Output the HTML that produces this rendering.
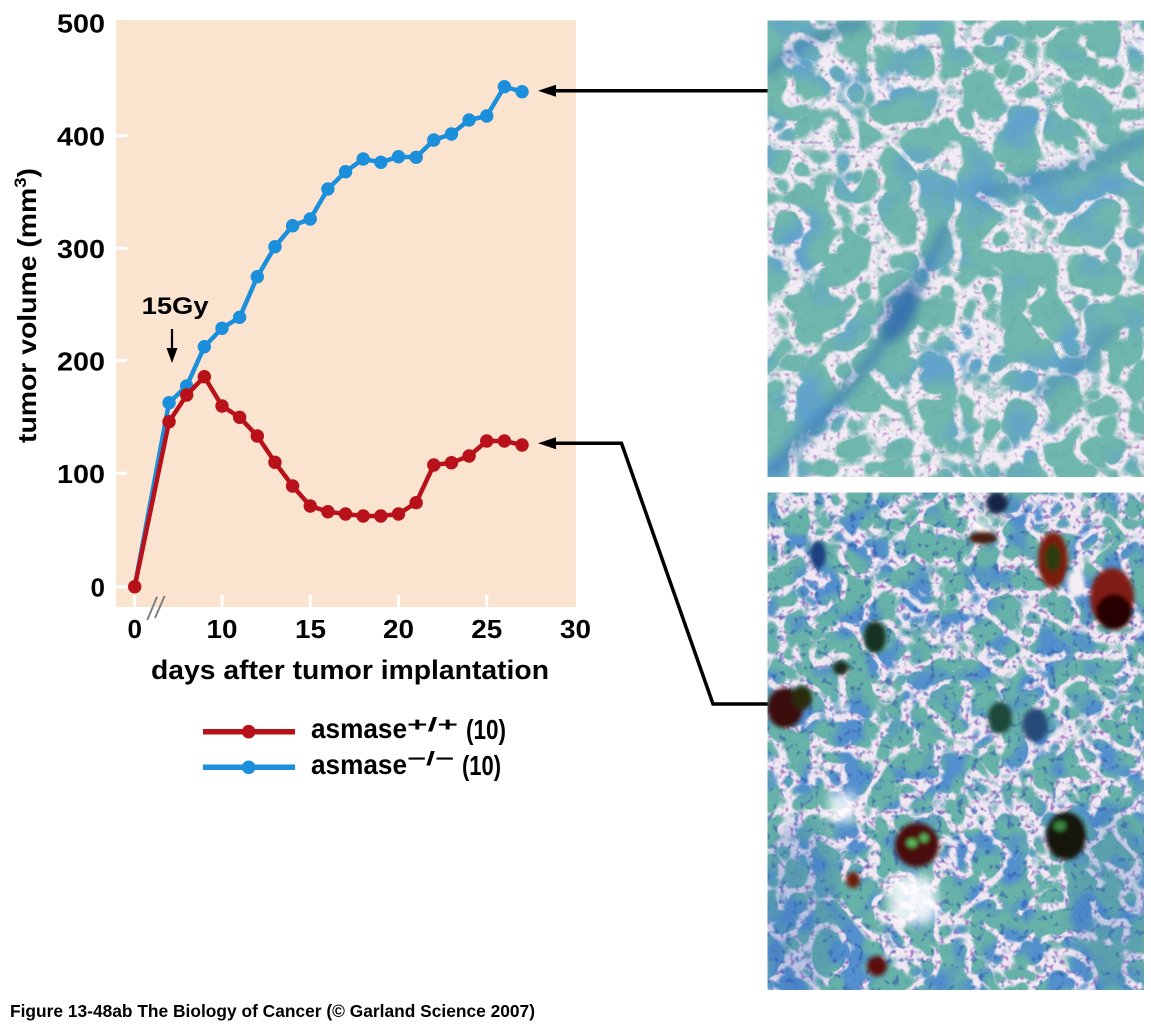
<!DOCTYPE html>
<html><head><meta charset="utf-8"><style>html,body{margin:0;padding:0;background:#fff;width:1151px;height:1024px;overflow:hidden}svg{display:block}</style></head>
<body>
<svg xmlns="http://www.w3.org/2000/svg" width="1151" height="1024" viewBox="0 0 1151 1024" font-family="'Liberation Sans', Arial, sans-serif" font-weight="bold">
<defs>
  <clipPath id="c1"><rect x="767.5" y="20.5" width="376.5" height="456.5"/></clipPath>
  <clipPath id="c2"><rect x="767.5" y="492.5" width="376.5" height="497.5"/></clipPath>
  <filter id="spk1" filterUnits="userSpaceOnUse" x="767" y="20" width="378" height="458" color-interpolation-filters="sRGB">
    <feTurbulence type="fractalNoise" baseFrequency="0.22" numOctaves="1" seed="11"/>
    <feColorMatrix type="matrix" values="0 0 0 0 0.70  0 0 0 0 0.52  0 0 0 0 0.78  5 0 0 0 -2.8"/>
  </filter>
  <filter id="cel1" filterUnits="userSpaceOnUse" x="767" y="20" width="378" height="458" color-interpolation-filters="sRGB">
    <feTurbulence type="turbulence" baseFrequency="0.024" numOctaves="2" seed="4" result="t"/>
    <feColorMatrix in="t" type="matrix" values="0 0 0 0 0  0 0 0 0 0  0 0 0 0 0  9 0 0 0 -0.95" result="mask"/>
    <feFlood flood-color="#70b7ad" result="teal"/>
    <feTurbulence type="fractalNoise" baseFrequency="0.018" numOctaves="2" seed="8" result="f"/>
    <feColorMatrix in="f" type="matrix" values="0 0 0 0 0.38  0 0 0 0 0.64  0 0 0 0 0.80  0 4 0 0 -1.95" result="blue"/>
    <feComposite in="blue" in2="teal" operator="over" result="col"/>
    <feComposite in="col" in2="mask" operator="in"/>
  </filter>
  <filter id="grain1" filterUnits="userSpaceOnUse" x="767" y="20" width="378" height="458" color-interpolation-filters="sRGB">
    <feTurbulence type="fractalNoise" baseFrequency="0.12" numOctaves="2" seed="17"/>
    <feColorMatrix type="matrix" values="0 0 0 0 0.40  0 0 0 0 0.66  0 0 0 0 0.62  4 0 0 0 -2.2"/>
  </filter>
  <filter id="spk2" filterUnits="userSpaceOnUse" x="767" y="492" width="378" height="499" color-interpolation-filters="sRGB">
    <feTurbulence type="fractalNoise" baseFrequency="0.2" numOctaves="1" seed="5"/>
    <feColorMatrix type="matrix" values="0 0 0 0 0.68  0 0 0 0 0.50  0 0 0 0 0.78  5 0 0 0 -2.7"/>
  </filter>
  <filter id="cel2" filterUnits="userSpaceOnUse" x="767" y="492" width="378" height="499" color-interpolation-filters="sRGB">
    <feTurbulence type="turbulence" baseFrequency="0.032" numOctaves="2" seed="14" result="t"/>
    <feColorMatrix in="t" type="matrix" values="0 0 0 0 0  0 0 0 0 0  0 0 0 0 0  8 0 0 0 -0.9" result="mask"/>
    <feFlood flood-color="#66b1a8" result="teal"/>
    <feTurbulence type="fractalNoise" baseFrequency="0.03" numOctaves="2" seed="33" result="f"/>
    <feColorMatrix in="f" type="matrix" values="0 0 0 0 0.32  0 0 0 0 0.56  0 0 0 0 0.80  0 5 0 0 -2.3" result="blue"/>
    <feComposite in="blue" in2="teal" operator="over" result="col"/>
    <feComposite in="col" in2="mask" operator="in"/>
  </filter>
  <filter id="dsp2" filterUnits="userSpaceOnUse" x="767" y="492" width="378" height="499" color-interpolation-filters="sRGB">
    <feTurbulence type="fractalNoise" baseFrequency="0.14" numOctaves="2" seed="41"/>
    <feColorMatrix type="matrix" values="0 0 0 0 0.18  0 0 0 0 0.32  0 0 0 0 0.68  6 0 0 0 -3.6"/>
  </filter>
  <filter id="bl5" x="-50%" y="-50%" width="200%" height="200%"><feGaussianBlur stdDeviation="5"/></filter>
  <filter id="bl2" x="-50%" y="-50%" width="200%" height="200%"><feGaussianBlur stdDeviation="2"/></filter>
</defs>

<!-- plot background -->
<rect x="116" y="20" width="460" height="587" fill="#fbe4cf"/>
<!-- ticks -->
<g stroke="#ffffff" stroke-width="3">
  <line x1="116" y1="135.7" x2="127" y2="135.7"/>
  <line x1="116" y1="248.3" x2="127" y2="248.3"/>
  <line x1="116" y1="360.7" x2="127" y2="360.7"/>
  <line x1="116" y1="473.3" x2="127" y2="473.3"/>
  <line x1="116" y1="586.7" x2="127" y2="586.7"/>
  <line x1="134.7" y1="595" x2="134.7" y2="607"/>
  <line x1="222" y1="595" x2="222" y2="607"/>
  <line x1="310.25" y1="595" x2="310.25" y2="607"/>
  <line x1="398.5" y1="595" x2="398.5" y2="607"/>
  <line x1="486.75" y1="595" x2="486.75" y2="607"/>
</g>
<!-- axis break -->
<g stroke="#808080" stroke-width="2">
  <line x1="147.3" y1="620" x2="157" y2="596.7"/>
  <line x1="155" y1="618" x2="164.6" y2="596"/>
</g>

<!-- y labels -->
<g font-size="26" text-anchor="end" fill="#000">
  <text x="105" y="32.5" textLength="48" lengthAdjust="spacingAndGlyphs">500</text>
  <text x="105" y="145.3" textLength="48" lengthAdjust="spacingAndGlyphs">400</text>
  <text x="105" y="257.9" textLength="48" lengthAdjust="spacingAndGlyphs">300</text>
  <text x="105" y="370.3" textLength="48" lengthAdjust="spacingAndGlyphs">200</text>
  <text x="105" y="482.9" textLength="48" lengthAdjust="spacingAndGlyphs">100</text>
  <text x="105" y="596.3">0</text>
</g>
<!-- x labels -->
<g font-size="26" text-anchor="middle" fill="#000">
  <text x="134.7" y="638">0</text>
  <text x="222" y="638" textLength="31" lengthAdjust="spacingAndGlyphs">10</text>
  <text x="310.5" y="638" textLength="31" lengthAdjust="spacingAndGlyphs">15</text>
  <text x="398.5" y="638" textLength="31" lengthAdjust="spacingAndGlyphs">20</text>
  <text x="486.8" y="638" textLength="31" lengthAdjust="spacingAndGlyphs">25</text>
  <text x="575.5" y="638" textLength="31" lengthAdjust="spacingAndGlyphs">30</text>
</g>
<text x="151" y="679" font-size="27" textLength="398" lengthAdjust="spacingAndGlyphs">days after tumor implantation</text>
<text transform="translate(36,443) rotate(-90)" font-size="26" textLength="275" lengthAdjust="spacingAndGlyphs">tumor volume (mm<tspan font-size="17" dy="-10">3</tspan><tspan dy="10">)</tspan></text>

<!-- 15Gy annotation -->
<text x="141.6" y="314" font-size="24" textLength="67" lengthAdjust="spacingAndGlyphs">15Gy</text>
<line x1="172" y1="329" x2="172" y2="352" stroke="#000" stroke-width="2.2"/>
<polygon points="166.5,348 177.5,348 172,363" fill="#000"/>

<!-- blue series -->
<polyline fill="none" stroke="#1b8fdb" stroke-width="4.5" stroke-linejoin="round" points="134.7,586.7 169.05,402.7 186.7,386 204.35,346.7 222,328.3 239.65,317.3 257.3,276.7 274.95,246.7 292.6,225.7 310.25,219 327.9,189 345.55,171.7 363.2,159 380.85,162.3 398.5,156.7 416.15,157.3 433.8,140 451.45,134 469.1,120 486.75,116 504.4,86.7 522.05,91.7"/>
<g fill="#1b8fdb">
  <circle cx="169.05" cy="402.7" r="6.7"/><circle cx="186.7" cy="386" r="6.7"/><circle cx="204.35" cy="346.7" r="6.7"/><circle cx="222" cy="328.3" r="6.7"/><circle cx="239.65" cy="317.3" r="6.7"/><circle cx="257.3" cy="276.7" r="6.7"/><circle cx="274.95" cy="246.7" r="6.7"/><circle cx="292.6" cy="225.7" r="6.7"/><circle cx="310.25" cy="219" r="6.7"/><circle cx="327.9" cy="189" r="6.7"/><circle cx="345.55" cy="171.7" r="6.7"/><circle cx="363.2" cy="159" r="6.7"/><circle cx="380.85" cy="162.3" r="6.7"/><circle cx="398.5" cy="156.7" r="6.7"/><circle cx="416.15" cy="157.3" r="6.7"/><circle cx="433.8" cy="140" r="6.7"/><circle cx="451.45" cy="134" r="6.7"/><circle cx="469.1" cy="120" r="6.7"/><circle cx="486.75" cy="116" r="6.7"/><circle cx="504.4" cy="86.7" r="6.7"/><circle cx="522.05" cy="91.7" r="6.7"/>
</g>
<!-- red series -->
<polyline fill="none" stroke="#b8111a" stroke-width="4.5" stroke-linejoin="round" points="134.7,586.7 169.05,421.7 186.7,395 204.35,376.7 222,406 239.65,417.3 257.3,436 274.95,462.3 292.6,486 310.25,506 327.9,511.7 345.55,514 363.2,516 380.85,516 398.5,514 416.15,502.7 433.8,465 451.45,462.7 469.1,456 486.75,441 504.4,441 522.05,445"/>
<g fill="#b8111a">
  <circle cx="134.7" cy="586.7" r="6.7"/><circle cx="169.05" cy="421.7" r="6.7"/><circle cx="186.7" cy="395" r="6.7"/><circle cx="204.35" cy="376.7" r="6.7"/><circle cx="222" cy="406" r="6.7"/><circle cx="239.65" cy="417.3" r="6.7"/><circle cx="257.3" cy="436" r="6.7"/><circle cx="274.95" cy="462.3" r="6.7"/><circle cx="292.6" cy="486" r="6.7"/><circle cx="310.25" cy="506" r="6.7"/><circle cx="327.9" cy="511.7" r="6.7"/><circle cx="345.55" cy="514" r="6.7"/><circle cx="363.2" cy="516" r="6.7"/><circle cx="380.85" cy="516" r="6.7"/><circle cx="398.5" cy="514" r="6.7"/><circle cx="416.15" cy="502.7" r="6.7"/><circle cx="433.8" cy="465" r="6.7"/><circle cx="451.45" cy="462.7" r="6.7"/><circle cx="469.1" cy="456" r="6.7"/><circle cx="486.75" cy="441" r="6.7"/><circle cx="504.4" cy="441" r="6.7"/><circle cx="522.05" cy="445" r="6.7"/>
</g>

<!-- legend -->
<line x1="203" y1="731.7" x2="295" y2="731.7" stroke="#b8111a" stroke-width="5.5"/>
<circle cx="248.7" cy="731.7" r="6.8" fill="#b8111a"/>
<line x1="203" y1="767.3" x2="295" y2="767.3" stroke="#1b8fdb" stroke-width="5.5"/>
<circle cx="248.7" cy="767.3" r="6.8" fill="#1b8fdb"/>
<g font-size="28" fill="#000">
  <text x="311" y="738" textLength="96" lengthAdjust="spacingAndGlyphs">asmase</text>
  <text x="407" y="731" font-size="19" textLength="51" lengthAdjust="spacingAndGlyphs">+/+</text>
  <text x="466" y="739" textLength="40" lengthAdjust="spacingAndGlyphs">(10)</text>
  <text x="311" y="774" textLength="96" lengthAdjust="spacingAndGlyphs">asmase</text>
  <text x="407" y="765" font-size="19" textLength="47" lengthAdjust="spacingAndGlyphs">−/−</text>
  <text x="462" y="775" textLength="39" lengthAdjust="spacingAndGlyphs">(10)</text>
</g>

<!-- caption -->
<text x="10" y="1017" font-size="17.5" textLength="525" lengthAdjust="spacingAndGlyphs">Figure 13-48ab  The Biology of Cancer (© Garland Science 2007)</text>

<!-- top micrograph -->
<g clip-path="url(#c1)">
  <rect x="767" y="20" width="378" height="458" fill="#f1ecf4"/>
  <rect x="767" y="20" width="378" height="458" filter="url(#spk1)" opacity="0.8"/>
  <rect x="767" y="20" width="378" height="458" filter="url(#cel1)"/>
  <rect x="767" y="20" width="378" height="458" filter="url(#grain1)" opacity="0.45"/>
  <g filter="url(#bl5)" fill="none" stroke-linecap="round">
    <path d="M 772 470 L 830 410 L 870 360 L 900 320 L 925 270 L 945 230" stroke="#2f6db3" stroke-width="13" opacity="0.5"/>
    <path d="M 769 72 Q 800 36 862 24" stroke="#2d6ab0" stroke-width="9" opacity="0.55"/>
    <path d="M 985 195 L 1040 178 L 1090 165 L 1145 138" stroke="#3a78bb" stroke-width="16" opacity="0.4"/>
    <path d="M 1040 395 L 1080 362 L 1112 330" stroke="#3a78bb" stroke-width="14" opacity="0.35"/>
    <ellipse cx="900" cy="312" rx="16" ry="32" transform="rotate(25 900 312)" fill="#245ca5" stroke="none" opacity="0.55"/>
  </g>
</g>

<!-- bottom micrograph -->
<g clip-path="url(#c2)">
  <rect x="767" y="492" width="378" height="499" fill="#efe8f3"/>
  <rect x="767" y="492" width="378" height="499" filter="url(#spk2)"/>
  <rect x="767" y="492" width="378" height="499" filter="url(#cel2)"/>
  <rect x="767" y="492" width="378" height="499" filter="url(#dsp2)" opacity="0.55"/>
  <g filter="url(#bl5)">
    <ellipse cx="800" cy="910" rx="40" ry="90" fill="#3f72bc" opacity="0.3"/>
    <ellipse cx="1110" cy="900" rx="40" ry="90" fill="#3f72bc" opacity="0.25"/>
    <rect x="829" y="792" width="26" height="30" fill="#ffffff" opacity="0.8"/>
    <rect x="889" y="876" width="48" height="48" rx="14" fill="#ffffff" opacity="0.85"/>
    <ellipse cx="981" cy="527" rx="12" ry="7" fill="#ffffff" opacity="0.8"/>
  </g>
  <g filter="url(#bl2)">
    <ellipse cx="1053" cy="560" rx="15" ry="28" fill="#7c1a10"/>
    <ellipse cx="1053" cy="558" rx="8" ry="14" fill="#2b3a10"/>
    <ellipse cx="1112" cy="598" rx="22" ry="30" fill="#801c12"/>
    <ellipse cx="1114" cy="612" rx="18" ry="18" fill="#250606"/>
    <ellipse cx="1076" cy="584" rx="9" ry="14" fill="#f4eef4"/>
    <ellipse cx="785" cy="708" rx="18" ry="20" fill="#3a0808"/>
    <ellipse cx="802" cy="698" rx="10" ry="12" fill="#2b2a10"/>
    <ellipse cx="917" cy="845" rx="22" ry="22" fill="#4a0e08"/>
    <ellipse cx="912" cy="843" rx="5" ry="4" fill="#55c060"/>
    <ellipse cx="924" cy="838" rx="4" ry="4" fill="#55c060"/>
    <ellipse cx="1066" cy="836" rx="20" ry="24" fill="#12180e"/>
    <ellipse cx="1060" cy="826" rx="6" ry="5" fill="#3a8a40"/>
    <ellipse cx="877" cy="966" rx="10" ry="10" fill="#5a0c08"/>
    <ellipse cx="983" cy="538" rx="14" ry="6" fill="#4a1c10"/>
    <ellipse cx="997" cy="503" rx="11" ry="11" fill="#12254a"/>
    <ellipse cx="875" cy="637" rx="11" ry="16" fill="#173020"/>
    <ellipse cx="841" cy="668" rx="8" ry="7" fill="#1c2a1c"/>
    <ellipse cx="1000" cy="718" rx="12" ry="16" fill="#1d4a3a"/>
    <ellipse cx="1035" cy="725" rx="13" ry="17" fill="#264c78"/>
    <ellipse cx="818" cy="555" rx="8" ry="14" fill="#1f3f80"/>
    <ellipse cx="853" cy="880" rx="7" ry="8" fill="#6a1a10"/>
  </g>
</g>

<!-- connector arrows -->
<g stroke="#000" stroke-width="3.5" fill="none">
  <line x1="767.5" y1="90.7" x2="552" y2="90.7"/>
  <polyline points="767.5,704 713,704 621.5,443.3 552,443.3" stroke-linejoin="miter"/>
</g>
<polygon points="538,90.7 556,84.7 556,96.7" fill="#000"/>
<polygon points="538,443.3 556,437.3 556,449.3" fill="#000"/>
</svg>
</body></html>
